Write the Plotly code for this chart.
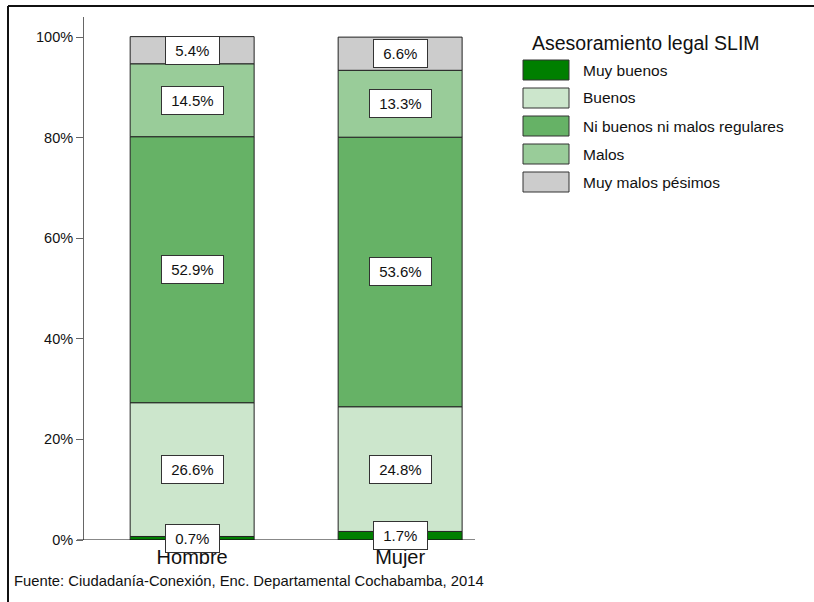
import plotly.graph_objects as go

categories = ["Hombre", "Mujer"]
series_names = ["Muy buenos", "Buenos", "Ni buenos ni malos regulares", "Malos", "Muy malos pésimos"]
muy_buenos = [0.7, 1.7]
buenos = [26.6, 24.8]
regulares = [52.9, 53.6]
malos = [14.5, 13.3]
muy_malos = [5.4, 6.6]
series_values = [muy_buenos, buenos, regulares, malos, muy_malos]
colors = ["#007f00", "#cce6cc", "#66b266", "#99cc99", "#cccccc"]
tick_vals = [0, 20, 40, 60, 80, 100]
tick_text = ["0%", "20%", "40%", "60%", "80%", "100%"]
legend_title = "Asesoramiento legal SLIM"
source_text = "Fuente: Ciudadanía-Conexión, Enc. Departamental Cochabamba, 2014"

FONT = "Arial, Liberation Sans, sans-serif"
W, H = 814, 602
L, R, T, B = 84, 339, 17, 62
PW, PH = W - L - R, H - T - B

def px(xp):
    return (xp - L) / PW

def py(yp):
    return (H - B - yp) / PH

fig = go.Figure()
base = [0.0] * len(categories)
annotations = []
for name, vals, col in zip(series_names, series_values, colors):
    fig.add_trace(go.Bar(
        x=list(range(len(categories))), y=vals, base=base[:], name=name,
        marker=dict(color=col, line=dict(color="#222222", width=1)),
        width=0.596, showlegend=False, hoverinfo="skip",
    ))
    for i, v in enumerate(vals):
        annotations.append(dict(
            x=i, y=base[i] + v / 2, xref="x", yref="y",
            text="\u00a0" + f"{v:.1f}%" + "\u00a0",
            showarrow=False, bgcolor="white", bordercolor="#333333",
            borderwidth=1, borderpad=5,
            font=dict(family=FONT, size=15, color="#111111"),
        ))
    base = [b + v for b, v in zip(base, vals)]

shapes = []
# custom legend
annotations.append(dict(
    x=px(530), y=py(43), xref="paper", yref="paper", xanchor="left", yanchor="middle",
    text=legend_title, showarrow=False, font=dict(family=FONT, size=19.5, color="#111111"),
))
for k, (name, col) in enumerate(zip(series_names, colors)):
    yc = 70 + k * 28
    shapes.append(dict(type="rect", xref="paper", yref="paper",
                       x0=px(523), x1=px(569), y0=py(yc - 10), y1=py(yc + 10),
                       fillcolor=col, line=dict(color="#333333", width=1)))
    annotations.append(dict(
        x=px(581), y=py(yc), xref="paper", yref="paper", xanchor="left", yanchor="middle",
        text=name, showarrow=False, font=dict(family=FONT, size=15.5, color="#111111"),
    ))

# source caption
annotations.append(dict(
    x=px(12), y=py(581), xref="paper", yref="paper", xanchor="left", yanchor="middle",
    text=source_text, showarrow=False, font=dict(family=FONT, size=14.8, color="#111111"),
))

# x axis baseline
shapes.append(dict(type="line", xref="paper", yref="y", x0=px(77), x1=px(475), y0=0, y1=0,
                   line=dict(color="#111111", width=1)))
# outer frame (top and left)
shapes.append(dict(type="line", xref="paper", yref="paper", x0=px(8), x1=px(814), y0=py(6), y1=py(6),
                   line=dict(color="#111111", width=2)))
shapes.append(dict(type="line", xref="paper", yref="paper", x0=px(8), x1=px(8), y0=py(6), y1=py(602),
                   line=dict(color="#111111", width=2)))

fig.update_layout(
    width=W, height=H,
    margin=dict(l=L, r=R, t=T, b=B, autoexpand=False),
    plot_bgcolor="white", paper_bgcolor="white",
    barmode="overlay",
    font=dict(family=FONT, size=13, color="#111111"),
    xaxis=dict(range=[-0.52, 1.36], tickvals=list(range(len(categories))), ticktext=categories,
               showgrid=False, zeroline=False, showline=False, ticks="",
               ticklabelstandoff=3,
               tickfont=dict(size=20, family=FONT, color="#111111")),
    yaxis=dict(range=[0, 104], tickvals=tick_vals, ticktext=tick_text,
               showgrid=False, zeroline=False, showline=True, linecolor="#666666", linewidth=1,
               ticks="outside", ticklen=7, tickcolor="#666666",
               tickfont=dict(size=14.5, family=FONT, color="#111111")),
    annotations=annotations, shapes=shapes,
)

fig.write_html("out.html", config={"displayModeBar": False},
               post_script="document.body.style.margin='0';")
